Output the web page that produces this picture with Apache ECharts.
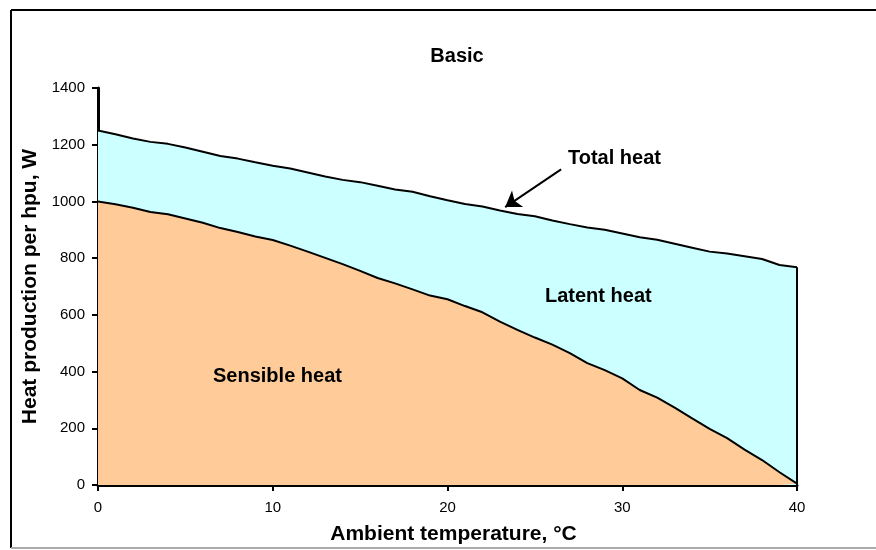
<!DOCTYPE html>
<html>
<head>
<meta charset="utf-8">
<script src="https://cdn.jsdelivr.net/npm/echarts@6/dist/echarts.min.js"></script>
<style>html,body{margin:0;padding:0;background:#fff}#c{width:876px;height:550px}</style>
</head>
<body>
<div id="c"></div>
<script>
const temps = [0,1,2,3,4,5,6,7,8,9,10,11,12,13,14,15,16,17,18,19,20,21,22,23,24,25,26,27,28,29,30,31,32,33,34,35,36,37,38,39,40];
const totalHeat = [1250,1237,1222,1210,1203,1190,1175,1160,1151,1138,1126,1116,1102,1088,1076,1068,1055,1042,1034,1018,1004,991,982,968,956,948,933,920,908,900,887,874,865,851,837,823,816,807,797,776,768];
const sensibleHeat = [1000,990,978,963,955,940,925,906,892,876,864,844,823,801,779,755,730,711,690,668,655,631,609,576,547,520,495,465,430,405,376,335,308,273,235,198,165,125,88,45,5];
const yTicks = [0,200,400,600,800,1000,1200,1400];
const xTicks = [0,10,20,30,40];

const FONT = '"Liberation Sans", Arial, sans-serif';
const chart = echarts.init(document.getElementById('c'));
const last = temps.length - 1;
chart.setOption({
  animation: false,
  backgroundColor: '#fff',
  title: {
    text: 'Basic', left: 452, top: 41, textAlign: 'center',
    textStyle: {fontFamily: FONT, fontSize: 20, fontWeight: 'bold', color: '#000'}
  },
  grid: {left: 98, right: 79, top: 88, bottom: 62},
  xAxis: {
    type: 'value', min: xTicks[0], max: xTicks[xTicks.length - 1], interval: 10,
    axisLine: {lineStyle: {color: '#000', width: 3}},
    axisTick: {show: true, length: 6, lineStyle: {color: '#000', width: 2}},
    splitLine: {show: false},
    axisLabel: {fontFamily: FONT, fontSize: 15, color: '#000', margin: 15},
    name: 'Ambient temperature, °C', nameLocation: 'middle', nameGap: 39,
    nameTextStyle: {fontFamily: FONT, fontSize: 21, fontWeight: 'bold', color: '#000', padding: [0, 0, 0, 12]}
  },
  yAxis: {
    type: 'value', min: yTicks[0], max: yTicks[yTicks.length - 1], interval: 200,
    axisLine: {show: true, lineStyle: {color: '#000', width: 3}},
    axisTick: {show: true, length: 6, lineStyle: {color: '#000', width: 2}},
    splitLine: {show: false},
    axisLabel: {fontFamily: FONT, fontSize: 15, color: '#000', margin: 13, formatter: v => String(v)},
    name: 'Heat production per hpu, W', nameLocation: 'middle', nameGap: 52,
    nameTextStyle: {fontFamily: FONT, fontSize: 21, fontWeight: 'bold', color: '#000'}
  },
  series: [
    {
      type: 'line', name: 'Total heat', symbol: 'none', z: 2,
      data: temps.map((t, i) => [t, totalHeat[i]]),
      lineStyle: {color: '#000', width: 2},
      areaStyle: {color: '#CCFFFF', opacity: 1},
      markLine: {
        silent: true, symbol: ['none', 'none'], label: {show: false},
        lineStyle: {color: '#000', width: 2, type: 'solid'},
        data: [[{coord: [temps[last], 0]}, {coord: [temps[last], totalHeat[last]]}]]
      }
    },
    {
      type: 'line', name: 'Sensible heat', symbol: 'none', z: 3,
      data: temps.map((t, i) => [t, sensibleHeat[i]]),
      lineStyle: {color: '#000', width: 2},
      areaStyle: {color: '#FFCC99', opacity: 1},
      markLine: {
        silent: true, symbol: ['none', 'arrow'], symbolSize: 15, label: {show: false},
        lineStyle: {color: '#000', width: 2, type: 'solid'},
        data: [[{coord: [26.5, 1113]}, {coord: [23.3, 980]}]]
      }
    }
  ],
  graphic: [
    {type: 'line', shape: {x1: 11, y1: 10, x2: 876, y2: 10}, style: {stroke: '#000', lineWidth: 2}},
    {type: 'line', shape: {x1: 11, y1: 10, x2: 11, y2: 548}, style: {stroke: '#000', lineWidth: 2}},
    {type: 'line', shape: {x1: 11, y1: 548, x2: 876, y2: 548}, style: {stroke: '#aaa', lineWidth: 2}},
    {type: 'text', left: 568, top: 148, z: 10, style: {text: 'Total heat', font: 'bold 20px ' + FONT, fill: '#000'}},
    {type: 'text', left: 545, top: 286, z: 10, style: {text: 'Latent heat', font: 'bold 20px ' + FONT, fill: '#000'}},
    {type: 'text', left: 213, top: 366, z: 10, style: {text: 'Sensible heat', font: 'bold 20px ' + FONT, fill: '#000'}}
  ]
});
</script>
</body>
</html>
